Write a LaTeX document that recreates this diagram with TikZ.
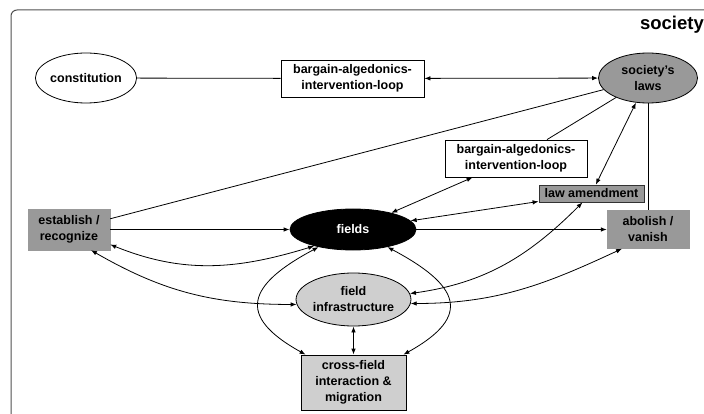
\documentclass[tikz,border=0pt]{standalone}
\usepackage{fontspec}
\setmainfont{Liberation Sans}
\usetikzlibrary{arrows.meta,shapes.geometric}

\definecolor{midgray}{HTML}{999999}
\definecolor{lightgray}{HTML}{CFCFCF}
\definecolor{framegray}{HTML}{505050}

\tikzset{
  base/.style={font=\fontsize{12.5}{16}\selectfont\bfseries, align=center, inner sep=0pt},
  oval/.style={base, ellipse, draw=black, line width=0.8pt},
  box/.style={base, rectangle, draw=black, line width=0.8pt},
  flat/.style={base, rectangle, fill=midgray, draw=midgray},
  link/.style={line width=0.8pt},
  both/.style={link, {Latex[length=6pt,width=4.5pt]}-{Latex[length=6pt,width=4.5pt]}},
  onearrow/.style={link, -{Latex[length=6pt,width=4.5pt]}},
}

\begin{document}
\begin{tikzpicture}[x=1pt,y=-1pt]
\useasboundingbox (0,0) rectangle (704,414);
\clip (0,0) rectangle (704,414);

% outer frame of the society
\draw[framegray, line width=1pt, rounded corners=6pt] (11,10) rectangle (730,440);
\node[base, font=\fontsize{18.5}{20}\selectfont\bfseries, anchor=east] (society) at (704,25) {society};

% nodes
\node[oval, fill=white, minimum width=100pt, minimum height=50pt] (constitution) at (86,78) {constitution};
\node[box, fill=white, minimum width=143pt, minimum height=37pt] (bargtop) at (352.5,78.5) {bargain-algedonics-\\intervention-loop};
\node[oval, fill=midgray, minimum width=99pt, minimum height=50pt] (laws) at (648,78) {society's\\laws};
\node[box, fill=white, minimum width=142pt, minimum height=37pt] (bargmid) at (516,158.5) {bargain-algedonics-\\intervention-loop};
\node[box, fill=midgray, draw=black!80, minimum width=105pt, minimum height=17pt] (amend) at (591.5,193.5) {law amendment};
\node[flat, minimum width=82pt, minimum height=41pt] (establish) at (69,229.5) {establish /\\recognize};
\node[oval, fill=black, text=white, minimum width=126pt, minimum height=41pt] (fields) at (353,229.5) {fields};
\node[flat, minimum width=82pt, minimum height=38pt] (abolish) at (648,229.5) {abolish /\\vanish};
\node[oval, fill=lightgray, minimum width=99pt, minimum height=53pt] (infra) at (353.5,299.5) {field\\infrastructure};
\node[box, fill=lightgray, minimum width=105pt, minimum height=55pt] (cross) at (353.5,382.5) {cross-field\\interaction \&\\migration};

% straight connectors
\draw[link] (constitution) -- (bargtop);
\draw[both] (bargtop) -- (laws);
\draw[link] (establish) -- (laws);
\draw[link] (bargmid) -- (laws);
\draw[both] (bargmid) -- (fields);
\draw[both] (amend) -- (fields);
\draw[both] (laws) -- (amend);
\draw[link] (laws) -- (abolish);
\draw[onearrow] (establish) -- (fields);
\draw[onearrow] (fields) -- (abolish);
\draw[both] (infra) -- (cross);

% curved connectors
\draw[both] ([yshift=-15pt]establish.east) to[out=-22, in=197] (fields.203);
\draw[both] ([xshift=22pt]establish.south) to[out=-30, in=180] (infra.185);
\draw[both] (fields.207) to[out=208, in=151, looseness=1.9] ([xshift=5pt]cross.north west);
\draw[both] (fields.333) to[out=-28, in=29, looseness=1.9] ([xshift=-3pt]cross.north east);
\draw[both] ([xshift=-9pt]amend.south) to[out=225, in=8] (infra.6);
\draw[both] ([xshift=-26pt]abolish.south) to[out=205, in=0] (infra.-4);
\end{tikzpicture}
\end{document}
